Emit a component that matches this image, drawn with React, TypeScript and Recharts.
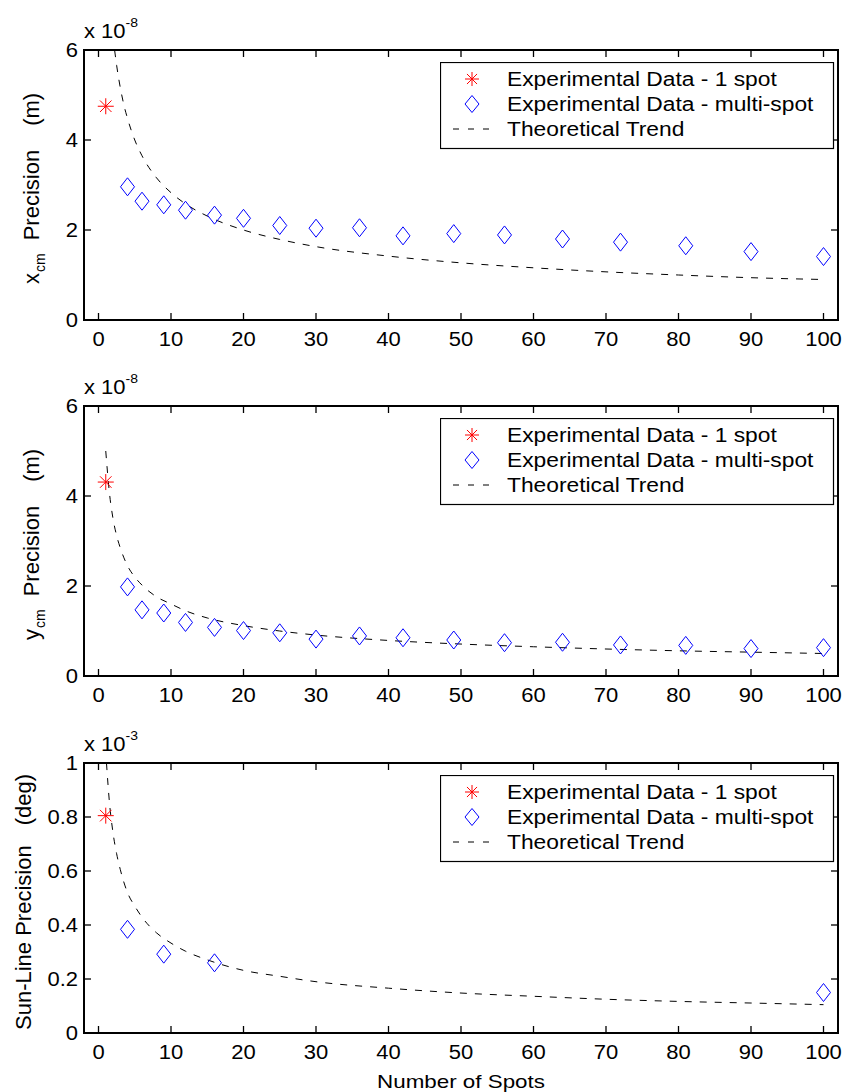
import React from 'react';
import { ComposedChart, Line, Scatter, XAxis, YAxis, Legend } from 'recharts';

const FONT = "'Liberation Sans', Arial, Helvetica, sans-serif";

// ---------- shared x axis ----------
const xTicks = [0, 10, 20, 30, 40, 50, 60, 70, 80, 90, 100];
const xDomain = [-2, 102];

// ---------- series x positions ----------
const oneSpotN = [1];
const multiSpotN = [4, 6, 9, 12, 16, 20, 25, 30, 36, 42, 49, 56, 64, 72, 81, 90, 100];
const sunMultiN = [4, 9, 16, 100];

// ---------- panel 1 : x_cm precision (x 1e-8 m) ----------
const xcmOneSpot = [4.75];
const xcmMulti = [2.96, 2.64, 2.56, 2.44, 2.33, 2.26, 2.1, 2.04, 2.05, 1.87, 1.92, 1.89, 1.8, 1.73, 1.65, 1.52, 1.41];
const xcmTrendN = [2.22, 2.5, 3, 3.5, 4, 5, 6, 8, 10, 12, 15, 20, 25, 30, 40, 50, 60, 70, 80, 90, 100];
const xcmTrend = [6.0, 5.66, 5.17, 4.78, 4.48, 4.0, 3.65, 3.16, 2.83, 2.58, 2.31, 2.0, 1.79, 1.63, 1.42, 1.27, 1.16, 1.07, 1.0, 0.94, 0.9];
const xcmTicks = [0, 2, 4, 6];

// ---------- panel 2 : y_cm precision (x 1e-8 m) ----------
const ycmOneSpot = [4.31];
const ycmMulti = [1.98, 1.47, 1.4, 1.19, 1.08, 1.01, 0.96, 0.82, 0.89, 0.85, 0.8, 0.74, 0.75, 0.69, 0.68, 0.61, 0.63];
const ycmTrendN = [1, 1.5, 2, 2.5, 3, 4, 5, 6, 8, 10, 12, 15, 20, 25, 30, 40, 50, 60, 70, 80, 90, 100];
const ycmTrend = [5.0, 4.08, 3.5, 3.12, 2.85, 2.45, 2.2, 2.02, 1.76, 1.6, 1.45, 1.29, 1.12, 1.0, 0.91, 0.79, 0.71, 0.65, 0.6, 0.56, 0.53, 0.5];
const ycmTicks = [0, 2, 4, 6];

// ---------- panel 3 : sun-line precision (x 1e-3 deg) ----------
const sunOneSpot = [0.805];
const sunMulti = [0.384, 0.292, 0.26, 0.15];
const sunTrendN = [1.1, 1.5, 2, 2.5, 3, 4, 5, 6, 8, 10, 12, 15, 20, 25, 30, 40, 50, 60, 70, 80, 90, 100];
const sunTrend = [1.0, 0.857, 0.742, 0.664, 0.606, 0.52, 0.47, 0.429, 0.371, 0.333, 0.303, 0.271, 0.232, 0.21, 0.19, 0.166, 0.148, 0.136, 0.125, 0.117, 0.111, 0.105];
const sunTicks = [0, 0.2, 0.4, 0.6, 0.8, 1];

const legendLabels = ['Experimental Data - 1 spot', 'Experimental Data - multi-spot', 'Theoretical Trend'];

const zip = (xs: number[], ys: number[]) => xs.map((x, i) => ({ x, y: ys[i] }));

const PLOT_TOP = 50;
const PLOT_BOTTOM = 320;
const PLOT_LEFT = 84;
const PLOT_RIGHT = 838;
const TICK = 7;

const Star = ({ cx, cy, r = 8 }: any) => {
  const d = r * 0.72;
  return (
    <g stroke="#ff0000" strokeWidth={1}>
      <line x1={cx - r} y1={cy} x2={cx + r} y2={cy} />
      <line x1={cx} y1={cy - r} x2={cx} y2={cy + r} />
      <line x1={cx - d} y1={cy - d} x2={cx + d} y2={cy + d} />
      <line x1={cx - d} y1={cy + d} x2={cx + d} y2={cy - d} />
    </g>
  );
};

const Diamond = ({ cx, cy, w = 7, h = 9 }: any) => (
  <path
    d={`M${cx},${cy - h} L${cx + w},${cy} L${cx},${cy + h} L${cx - w},${cy} Z`}
    fill="none"
    stroke="#0000ff"
    strokeWidth={1}
  />
);

const StarShape = (p: any) => <Star cx={p.cx} cy={p.cy} />;
const DiamondShape = (p: any) => <Diamond cx={p.cx} cy={p.cy} />;

const tickStyle = { stroke: '#000', strokeWidth: 1.3, fill: 'none' };

// bottom tick: label + inward tick marks on bottom and top edges
const XTick = (props: any) => {
  const { x, payload } = props;
  return (
    <g>
      <path d={`M${x},${PLOT_BOTTOM}V${PLOT_BOTTOM - TICK}`} {...tickStyle} />
      <path d={`M${x},${PLOT_TOP}V${PLOT_TOP + TICK}`} {...tickStyle} />
      <text
        transform={`translate(${x},${PLOT_BOTTOM + 26}) scale(1,0.88)`}
        textAnchor="middle"
        fontSize={22}
        fontFamily={FONT}
        fill="#000"
      >
        {payload.value}
      </text>
    </g>
  );
};

// left tick: label + inward tick marks on left and right edges
const YTick = (props: any) => {
  const { y, payload } = props;
  return (
    <g>
      <path d={`M${PLOT_LEFT},${y}H${PLOT_LEFT + TICK}`} {...tickStyle} />
      <path d={`M${PLOT_RIGHT},${y}H${PLOT_RIGHT - TICK}`} {...tickStyle} />
      <text
        transform={`translate(78,${y + 7}) scale(1,0.88)`}
        textAnchor="end"
        fontSize={22}
        fontFamily={FONT}
        fill="#000"
      >
        {payload.value}
      </text>
    </g>
  );
};

const LegendBox = () => (
  <svg width={395} height={88} style={{ display: 'block' }}>
    <rect x={0.5} y={0.5} width={393} height={86} fill="#fff" stroke="#000" strokeWidth={1.2} />
    <Star cx={32} cy={17} r={7} />
    <Diamond cx={32} cy={42} w={7} h={8.5} />
    <line x1={13} y1={67} x2={50} y2={67} stroke="#000" strokeWidth={1} strokeDasharray="6 9" />
    {legendLabels.map((t, i) => (
      <text
        key={t}
        transform={`translate(67,${17 + i * 25 + 7}) scale(1,0.86)`}
        fontSize={22.8}
        fontFamily={FONT}
        fill="#000"
      >
        {t}
      </text>
    ))}
  </svg>
);

type PanelProps = {
  top: number;
  height: number;
  oneY: number[];
  multiX: number[];
  multiY: number[];
  trendX: number[];
  trendY: number[];
  yDomain: number[];
  yTicks: number[];
  yLabel: React.ReactNode;
  expo: string;
  xLabel?: string;
};

function Panel(p: PanelProps) {
  const bottomH = p.height - PLOT_BOTTOM;
  const yLabelContent = () => (
    <g>
      <rect
        x={PLOT_LEFT}
        y={PLOT_TOP}
        width={PLOT_RIGHT - PLOT_LEFT}
        height={PLOT_BOTTOM - PLOT_TOP}
        fill="none"
        stroke="#000"
        strokeWidth={1.3}
        shapeRendering="crispEdges"
      />
      {p.yLabel}
      <text transform={`translate(84,${PLOT_TOP - 12}) scale(1,0.88)`} fontSize={22} fontFamily={FONT} fill="#000">
        x 10
        <tspan fontSize={14} dy={-12}>
          {p.expo}
        </tspan>
      </text>
    </g>
  );
  const xLabelContent = () =>
    p.xLabel ? (
      <text
        transform={`translate(461,${p.height - 4}) scale(1,0.85)`}
        textAnchor="middle"
        fontSize={22.4}
        fontFamily={FONT}
        fill="#000"
      >
        {p.xLabel}
      </text>
    ) : (
      <g />
    );
  return (
    <div style={{ position: 'absolute', left: 0, top: p.top, width: 844, height: p.height }}>
      <ComposedChart width={844} height={p.height} margin={{ top: PLOT_TOP, right: 844 - PLOT_RIGHT, bottom: 0, left: 0 }}>
        <XAxis
          xAxisId="b"
          dataKey="x"
          type="number"
          orientation="bottom"
          domain={xDomain}
          ticks={xTicks}
          interval={0}
          allowDataOverflow
          height={bottomH}
          tickLine={false}
          tick={XTick}
          axisLine={false}
          label={{ content: xLabelContent }}
        />
        <YAxis
          yAxisId="l"
          dataKey="y"
          type="number"
          orientation="left"
          domain={p.yDomain}
          ticks={p.yTicks}
          interval={0}
          allowDataOverflow
          width={PLOT_LEFT}
          tickLine={false}
          tick={YTick}
          axisLine={false}
          label={{ content: yLabelContent }}
        />
        <Legend
          layout="horizontal"
          verticalAlign="middle"
          align="center"
          content={() => <LegendBox />}
          wrapperStyle={{ position: 'absolute', left: 440, top: 62, width: 395, height: 88 }}
        />
        <Line
          xAxisId="b"
          yAxisId="l"
          data={zip(p.trendX, p.trendY)}
          dataKey="y"
          type="monotone"
          stroke="#000"
          strokeWidth={1}
          strokeDasharray="7 8"
          dot={false}
          activeDot={false}
          isAnimationActive={false}
          legendType="none"
        />
        <Scatter
          xAxisId="b"
          yAxisId="l"
          data={zip(oneSpotN, p.oneY)}
          dataKey="y"
          shape={StarShape}
          isAnimationActive={false}
          legendType="none"
        />
        <Scatter
          xAxisId="b"
          yAxisId="l"
          data={zip(p.multiX, p.multiY)}
          dataKey="y"
          shape={DiamondShape}
          isAnimationActive={false}
          legendType="none"
        />
      </ComposedChart>
    </div>
  );
}

const yLabelCm = (letter: string) => (
  <text transform="translate(39,284) rotate(-90)" textAnchor="start" fontSize={22} fontFamily={FONT} fill="#000">
    <tspan>{letter}</tspan>
    <tspan fontSize={14} dy={6} dx={1}>
      cm
    </tspan>
    <tspan dy={-6} dx={13}>
      Precision
    </tspan>
    <tspan dx={24}>(m)</tspan>
  </text>
);

const yLabelSun = (
  <text transform="translate(31,317) rotate(-90)" textAnchor="start" fontSize={22} fontFamily={FONT} fill="#000">
    <tspan>Sun-Line Precision</tspan>
    <tspan dx={20}>(deg)</tspan>
  </text>
);

export default function App() {
  return (
    <div style={{ position: 'absolute', left: 0, top: 0, width: 844, height: 1092, background: '#fff' }}>
      <Panel
        top={0}
        height={356}
        oneY={xcmOneSpot}
        multiX={multiSpotN}
        multiY={xcmMulti}
        trendX={xcmTrendN}
        trendY={xcmTrend}
        yDomain={[0, 6]}
        yTicks={xcmTicks}
        yLabel={yLabelCm('x')}
        expo="-8"
      />
      <Panel
        top={356}
        height={356}
        oneY={ycmOneSpot}
        multiX={multiSpotN}
        multiY={ycmMulti}
        trendX={ycmTrendN}
        trendY={ycmTrend}
        yDomain={[0, 6]}
        yTicks={ycmTicks}
        yLabel={yLabelCm('y')}
        expo="-8"
      />
      <Panel
        top={713}
        height={379}
        oneY={sunOneSpot}
        multiX={sunMultiN}
        multiY={sunMulti}
        trendX={sunTrendN}
        trendY={sunTrend}
        yDomain={[0, 1]}
        yTicks={sunTicks}
        yLabel={yLabelSun}
        expo="-3"
        xLabel="Number of Spots"
      />
    </div>
  );
}
